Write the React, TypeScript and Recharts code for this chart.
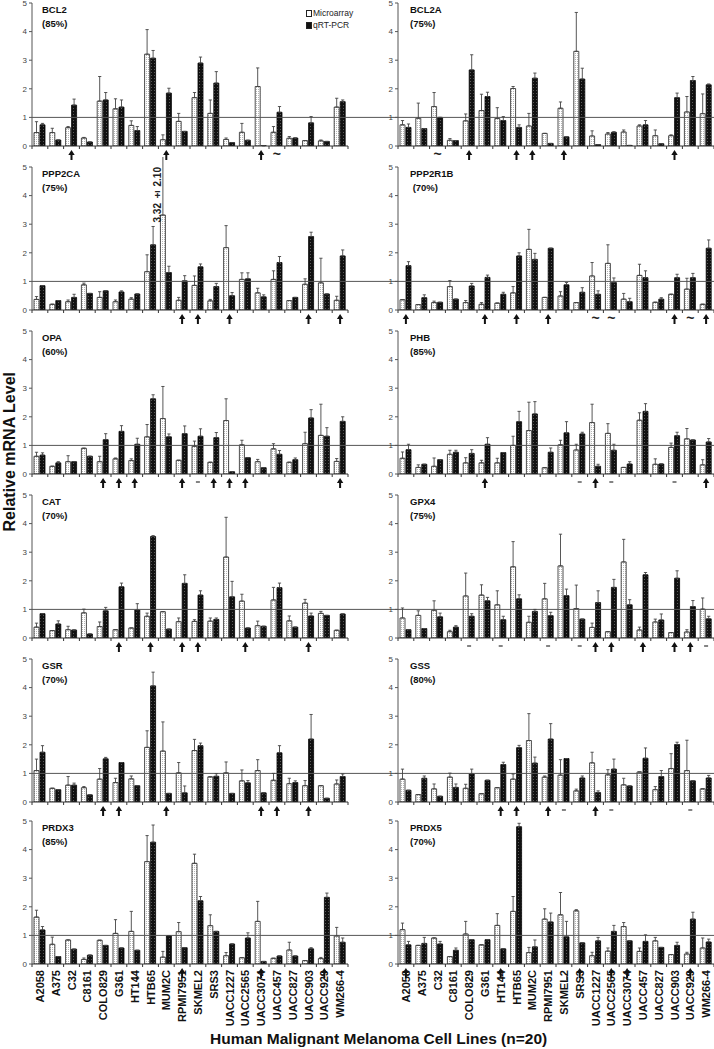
import React from 'react';
import { BarChart, Bar, XAxis, YAxis, ReferenceLine, ErrorBar } from 'recharts';

const CELL_LINES = ['A2058','A375','C32','C8161','COLO829','G361','HT144','HTB65','MUM2C','RPMI7951','SKMEL2','SRS3','UACC1227','UACC2565','UACC3074','UACC457','UACC827','UACC903','UACC929','WM266-4'];
const Y_TICKS = [0, 1, 2, 3, 4, 5];
const SERIES_NAMES = ['Microarray', 'qRT-PCR'];
const X_TITLE = 'Human Malignant Melanoma Cell Lines (n=20)';
const Y_TITLE = 'Relative mRNA Level';

// BCL2 (85%)
const bcl2Micro = [0.47,0.47,0.64,0.28,1.57,1.30,0.72,3.21,0.22,0.86,1.69,1.14,0.23,0.48,2.08,0.48,0.27,0.19,0.18,1.36];
const bcl2MicroErr = [0.38,0.15,0.04,0.02,0.86,0.35,0.16,0.86,0.17,0.28,0.18,0.47,0.05,0.31,0.65,0.20,0.06,0,0.03,0.31];
const bcl2Pcr = [0.74,0.21,1.43,0.14,1.61,1.36,0.54,3.07,1.85,0.51,2.90,2.20,0.12,0.20,0.01,1.18,0.28,0.81,0.16,1.55];
const bcl2PcrErr = [0.05,0,0.21,0,0.26,0.25,0.14,0.27,0.17,0,0.21,0.40,0,0,0,0.20,0,0.22,0,0.06];
const bcl2Arrows = ['C32','MUM2C','UACC3074'];
const bcl2Tildes = ['UACC457'];

// BCL2A (75%)
const bcl2aMicro = [0.74,0.97,1.38,0.20,0.88,1.24,0.96,2.01,0.70,0.44,1.32,3.31,0.35,0.42,0.49,0.70,0.36,0.36,1.19,1.13];
const bcl2aMicroErr = [0.15,0.53,0.49,0.06,0.24,0.57,0.38,0.07,0.44,0,0.22,1.36,0.18,0.05,0.07,0.04,0.20,0.03,0.54,0.69];
const bcl2aPcr = [0.65,0.61,1.00,0.19,2.66,1.73,0.89,0.65,2.37,0.09,0.32,2.34,0.05,0.48,0.02,0.74,0.08,1.69,2.29,2.14];
const bcl2aPcrErr = [0.12,0,0,0,0.53,0.15,0.14,0.09,0.18,0,0,0.38,0,0.02,0,0.15,0,0.16,0.14,0.03];
const bcl2aArrows = ['COLO829','HTB65','MUM2C','SKMEL2','UACC903'];
const bcl2aTildes = ['C32'];

// PPP2CA (75%)
const ppp2caMicro = [0.37,0.20,0.29,0.88,0.44,0.29,0.38,1.34,3.32,0.34,0.86,0.32,2.18,1.07,0.60,1.07,0.33,0.90,0.95,0.34];
const ppp2caMicroErr = [0.10,0,0.06,0.06,0.20,0.06,0.05,0.59,2.10,0.10,0.33,0.05,0.77,0.23,0.16,0.30,0,0.19,0.86,0.14];
const ppp2caPcr = [0.85,0.33,0.44,0.58,0.67,0.63,0.56,2.28,1.31,1.02,1.51,0.82,0.50,1.09,0.46,1.66,0.44,2.57,0.56,1.89];
const ppp2caPcrErr = [0,0,0.11,0,0,0.04,0,0.64,0.22,0.18,0.10,0.11,0.11,0.21,0.07,0.21,0,0.15,0,0.21];
const ppp2caArrows = ['RPMI7951','SKMEL2','UACC1227','UACC903','WM266-4'];

// PPP2R1B (70%)
const ppp2r1bMicro = [0.36,0.19,0.26,0.82,0.26,0.20,0.24,0.60,2.12,0.44,0.49,0.26,1.19,1.63,0.38,1.21,0.27,0.55,0.73,0.20];
const ppp2r1bMicroErr = [0,0,0.05,0.21,0.07,0.06,0,0.22,0.70,0,0.15,0,0.47,0.65,0.20,0.39,0,0,0.38,0];
const ppp2r1bPcr = [1.55,0.43,0.27,0.38,0.84,1.14,0.55,1.89,1.77,2.16,0.88,0.62,0.55,0.96,0.29,1.13,0.38,1.13,1.13,2.16];
const ppp2r1bPcrErr = [0.14,0.10,0,0,0.09,0.08,0.07,0.11,0.21,0,0.08,0.16,0.12,0.16,0.12,0.24,0.05,0.12,0.15,0.29];
const ppp2r1bArrows = ['A2058','G361','HTB65','RPMI7951','UACC903','WM266-4'];
const ppp2r1bTildes = ['UACC1227','UACC2565','UACC929'];

// OPA (60%)
const opaMicro = [0.62,0.27,0.43,0.90,0.43,0.53,0.47,1.30,1.94,0.48,0.97,0.41,1.87,1.02,0.43,0.88,0.41,1.06,1.35,0.44];
const opaMicroErr = [0.14,0,0.21,0,0.19,0.03,0.06,0.43,1.12,0,0.18,0,0.76,0.16,0.08,0.18,0,0.40,1.09,0.10];
const opaPcr = [0.66,0.39,0.43,0.62,1.20,1.49,1.04,2.63,1.30,1.41,1.32,1.27,0.08,0.57,0.22,0.69,0.50,1.96,1.32,1.84];
const opaPcrErr = [0.08,0.04,0,0,0.21,0.20,0.21,0.14,0.10,0.27,0.26,0.18,0,0,0,0.13,0.06,0.29,0.30,0.16];
const opaArrows = ['COLO829','G361','HT144','RPMI7951','SRS3','UACC1227','UACC2565','WM266-4'];
const opaDashes = ['SKMEL2'];

// PHB (85%)
const phbMicro = [0.55,0.23,0.27,0.69,0.39,0.39,0.39,1.00,1.52,0.22,1.02,0.84,1.80,1.42,0.23,1.88,0.34,0.93,1.23,0.32];
const phbMicroErr = [0.22,0.09,0.29,0.14,0.18,0.09,0.16,0.32,0.99,0,0.16,0.20,0.64,0.34,0,0.26,0.19,0.15,0.36,0.18];
const phbPcr = [0.85,0.34,0.50,0.76,0.72,1.04,0.75,1.83,2.10,0.76,1.44,1.40,0.27,0.83,0.35,2.19,0.35,1.34,1.19,1.12];
const phbPcrErr = [0.19,0,0,0.07,0.13,0.23,0,0.36,0.43,0.15,0.39,0.06,0.07,0.21,0.08,0.27,0,0.12,0,0.12];
const phbArrows = ['G361','UACC1227','WM266-4'];
const phbDashes = ['SRS3','UACC2565','UACC903'];

// CAT (70%)
const catMicro = [0.38,0.26,0.29,0.88,0.40,0.29,0.35,0.76,0.92,0.57,0.58,0.59,2.83,1.29,0.43,1.33,0.60,1.22,0.86,0.27];
const catMicroErr = [0.14,0,0.12,0.13,0.16,0,0,0.11,0,0.13,0.06,0.11,1.39,0.24,0.16,0.44,0.17,0.13,0.07,0];
const catPcr = [0.85,0.49,0.28,0.14,0.95,1.79,0.98,3.55,0.31,1.91,1.50,0.65,1.44,0.35,0.41,1.76,0.38,0.77,0.79,0.84];
const catPcrErr = [0,0.11,0,0,0.12,0.13,0.22,0.03,0,0.30,0.15,0.05,0.54,0,0,0.16,0,0.10,0,0];
const catArrows = ['G361','HTB65','RPMI7951','SKMEL2','UACC2565','UACC903'];

// GPX4 (75%)
const gpx4Micro = [0.70,0.79,0.97,0.22,1.47,1.50,1.16,2.49,0.55,1.37,2.52,1.03,0.37,0.22,2.66,0.28,0.56,0.19,0.21,1.01];
const gpx4MicroErr = [0.35,0.16,0.33,0.05,0.80,0.36,0.49,0.88,0.21,0.54,1.11,0.82,0.15,0,0.79,0.10,0.10,0,0.08,0.39];
const gpx4Pcr = [0.29,0.33,0.74,0.38,0.76,1.30,0.64,1.37,0.93,0.78,1.48,0.66,1.24,1.77,1.16,2.21,0.63,2.09,1.10,0.67];
const gpx4PcrErr = [0,0,0.13,0.05,0.09,0.12,0.12,0.14,0.07,0.12,0.23,0,0.41,0.28,0.18,0.08,0.21,0.26,0.21,0.09];
const gpx4Arrows = ['UACC1227','UACC2565','UACC457','UACC903','UACC929'];
const gpx4Dashes = ['COLO829','HT144','RPMI7951','SRS3','WM266-4'];

// GSR (70%)
const gsrMicro = [1.10,0.48,0.59,0.50,0.80,0.68,0.81,1.91,1.78,1.02,1.80,0.88,1.02,0.74,1.10,0.76,0.64,0.57,0.57,0.63];
const gsrMicroErr = [0.40,0,0.30,0.04,0.37,0.15,0.10,0.58,1.02,0.36,0.39,0,0.38,0.38,0.38,0.24,0.19,0.18,0,0.14];
const gsrPcr = [1.74,0.43,0.59,0.25,1.51,1.38,0.57,4.06,0.30,0.32,1.97,0.90,0.30,0.67,0.32,1.72,0.68,2.20,0.13,0.89];
const gsrPcrErr = [0.23,0,0.07,0,0.05,0,0,0.48,0,0.24,0.09,0.09,0,0.08,0,0.25,0.06,0.86,0,0.09];
const gsrArrows = ['COLO829','G361','MUM2C','UACC3074','UACC457','UACC903'];

// GSS (80%)
const gssMicro = [0.80,0.26,0.46,0.87,0.48,0.29,0.50,0.80,2.15,0.87,0.94,0.39,1.37,0.95,0.60,1.05,0.43,1.17,1.10,0.46];
const gssMicroErr = [0.35,0,0.17,0.14,0.14,0,0,0.18,0.94,0.04,0.54,0.06,0.37,0.18,0.23,0,0.11,0.52,1.06,0];
const gssPcr = [0.41,0.83,0.20,0.51,0.98,0.76,1.31,1.90,1.36,2.20,1.52,0.84,0.33,1.15,0.56,1.53,0.89,2.01,0.74,0.84];
const gssPcrErr = [0,0.08,0,0.12,0.17,0,0.08,0.08,0.21,0.54,0,0.07,0.06,0.35,0,0.36,0.21,0.08,0,0.09];
const gssArrows = ['HT144','HTB65','RPMI7951','UACC1227'];
const gssDashes = ['SKMEL2','UACC2565','UACC929'];

// PRDX3 (85%)
const prdx3Micro = [1.64,0.69,0.84,0.16,0.83,1.07,1.14,3.58,0.24,1.13,3.52,1.34,0.29,0.22,1.49,0.20,0.49,0.12,0.19,0.98];
const prdx3MicroErr = [0.24,0.25,0,0.05,0,0.48,0.70,0.91,0.20,0.32,0.32,0.38,0.11,0,0.70,0,0.27,0,0.04,0.30];
const prdx3Pcr = [1.19,0.26,0.52,0.31,0.65,0.56,0.48,4.26,0.99,0.57,2.21,1.14,0.70,0.91,0.09,0.28,0.28,0.53,2.33,0.76];
const prdx3PcrErr = [0.12,0,0,0,0,0,0,0.60,0,0,0.15,0,0,0.18,0,0,0,0.04,0.15,0.15];
const prdx3Arrows = ['RPMI7951','UACC3074','UACC929'];
const prdx3Dashes = ['G361','HT144'];

// PRDX5 (70%)
const prdx5Micro = [1.20,0.65,0.91,0.26,1.05,0.67,1.35,1.84,0.40,1.57,1.72,1.86,0.29,0.45,1.31,0.44,0.81,0.33,0.35,0.56];
const prdx5MicroErr = [0.23,0,0,0,0.44,0,0.41,0.52,0.18,0.36,0.78,0.04,0.12,0.11,0.14,0.12,0.12,0,0.06,0.35];
const prdx5Pcr = [0.67,0.72,0.70,0.48,0.85,0.85,0.53,4.80,0.60,1.47,0.95,0.74,0.81,1.14,0.81,0.79,0.58,0.65,1.57,0.77];
const prdx5PcrErr = [0.12,0.21,0.09,0.08,0,0,0,0.12,0.24,0.31,0.54,0,0.12,0.21,0,0.23,0,0.11,0.24,0.10];
const prdx5Arrows = ['A2058','HT144','SRS3','UACC2565','UACC3074','UACC929'];
const prdx5Dashes = ['COLO829','SKMEL2'];

type Gene = {
  name: string; pct: string;
  micro: number[]; microErr: number[]; pcr: number[]; pcrErr: number[];
  arrows?: string[]; tildes?: string[]; dashes?: string[];
};

const GENES: Gene[] = [
  { name: 'BCL2', pct: '(85%)', micro: bcl2Micro, microErr: bcl2MicroErr, pcr: bcl2Pcr, pcrErr: bcl2PcrErr, arrows: bcl2Arrows, tildes: bcl2Tildes },
  { name: 'BCL2A', pct: '(75%)', micro: bcl2aMicro, microErr: bcl2aMicroErr, pcr: bcl2aPcr, pcrErr: bcl2aPcrErr, arrows: bcl2aArrows, tildes: bcl2aTildes },
  { name: 'PPP2CA', pct: '(75%)', micro: ppp2caMicro, microErr: ppp2caMicroErr, pcr: ppp2caPcr, pcrErr: ppp2caPcrErr, arrows: ppp2caArrows },
  { name: 'PPP2R1B', pct: ' (70%)', micro: ppp2r1bMicro, microErr: ppp2r1bMicroErr, pcr: ppp2r1bPcr, pcrErr: ppp2r1bPcrErr, arrows: ppp2r1bArrows, tildes: ppp2r1bTildes },
  { name: 'OPA', pct: '(60%)', micro: opaMicro, microErr: opaMicroErr, pcr: opaPcr, pcrErr: opaPcrErr, arrows: opaArrows, dashes: opaDashes },
  { name: 'PHB', pct: '(85%)', micro: phbMicro, microErr: phbMicroErr, pcr: phbPcr, pcrErr: phbPcrErr, arrows: phbArrows, dashes: phbDashes },
  { name: 'CAT', pct: '(70%)', micro: catMicro, microErr: catMicroErr, pcr: catPcr, pcrErr: catPcrErr, arrows: catArrows },
  { name: 'GPX4', pct: '(75%)', micro: gpx4Micro, microErr: gpx4MicroErr, pcr: gpx4Pcr, pcrErr: gpx4PcrErr, arrows: gpx4Arrows, dashes: gpx4Dashes },
  { name: 'GSR', pct: '(70%)', micro: gsrMicro, microErr: gsrMicroErr, pcr: gsrPcr, pcrErr: gsrPcrErr, arrows: gsrArrows },
  { name: 'GSS', pct: '(80%)', micro: gssMicro, microErr: gssMicroErr, pcr: gssPcr, pcrErr: gssPcrErr, arrows: gssArrows, dashes: gssDashes },
  { name: 'PRDX3', pct: '(85%)', micro: prdx3Micro, microErr: prdx3MicroErr, pcr: prdx3Pcr, pcrErr: prdx3PcrErr, arrows: prdx3Arrows, dashes: prdx3Dashes },
  { name: 'PRDX5', pct: '(70%)', micro: prdx5Micro, microErr: prdx5MicroErr, pcr: prdx5Pcr, pcrErr: prdx5PcrErr, arrows: prdx5Arrows, dashes: prdx5Dashes },
];

const FONT = '"Liberation Sans", Arial, Helvetica, sans-serif';
const ZERO_Y = [146, 310, 474, 638, 802, 964];
const PLOT_H = 143;
const M_TOP = 10;
const BAND = 15.8;

function CellTick(props: any) {
  const { x, y, payload, gene, bottom } = props;
  const name = payload.value as string;
  const idx = CELL_LINES.indexOf(name);
  const half = BAND / 2;
  const isArrow = gene.arrows?.includes(name);
  const isTilde = gene.tildes?.includes(name);
  const isDash = gene.dashes?.includes(name);
  return (
    <g>
      <line x1={x - half} x2={x + half} y1={y} y2={y} stroke="#333" strokeWidth={1} />
      <line x1={x - half} x2={x - half} y1={y} y2={y + 3} stroke="#333" strokeWidth={1} />
      {idx === CELL_LINES.length - 1 && (
        <line x1={x + half} x2={x + half} y1={y} y2={y + 3} stroke="#333" strokeWidth={1} />
      )}
      {isArrow && (
        <path
          d={`M ${x} ${y + 4} L ${x + 3.2} ${y + 9} L ${x + 1} ${y + 9} L ${x + 1} ${y + 14} L ${x - 1} ${y + 14} L ${x - 1} ${y + 9} L ${x - 3.2} ${y + 9} Z`}
          fill="#111"
        />
      )}
      {isTilde && (
        <text x={x} y={y + 13} textAnchor="middle" fontSize={14} fontWeight="bold" fill="#222" fontFamily={FONT}>~</text>
      )}
      {isDash && !bottom && (
        <line x1={x - 2} x2={x + 2} y1={y + 8} y2={y + 8} stroke="#333" strokeWidth={1.2} />
      )}
      {isDash && bottom && (
        <line x1={x + 3} x2={x + 3} y1={y + 12} y2={y + 16} stroke="#333" strokeWidth={1.2} />
      )}
      {bottom && (
        <text
          x={x}
          y={y + 6}
          transform={`rotate(-90, ${x}, ${y + 6})`}
          textAnchor="end"
          dominantBaseline="central"
          fontSize={11}
          fontWeight="bold"
          fill="#111"
          fontFamily={FONT}
        >
          {name}
        </text>
      )}
    </g>
  );
}

function Panel({ gene, index }: { gene: Gene; index: number }) {
  const row = Math.floor(index / 2);
  const col = index % 2;
  const bottom = row === 5;
  const xH = bottom ? 75 : 20;
  const left = col === 0 ? 0 : 355;
  const width = col === 0 ? 398 : 359;
  const mLeft = col === 0 ? 8 : 19;
  const yW = 24;
  const padRight = col === 0 ? 50 : 0;
  const top = ZERO_Y[row] - PLOT_H - M_TOP;
  const height = M_TOP + PLOT_H + xH;
  const data = CELL_LINES.map((c, i) => ({
    cell: c,
    micro: gene.micro[i],
    microErr: [0, gene.microErr[i]],
    pcr: gene.pcr[i],
    pcrErr: [0, gene.pcrErr[i]],
  }));
  const pid = `p${index}`;
  const axisX = left + mLeft + yW;
  return (
    <>
      <div style={{ position: 'absolute', left, top, width, height }}>
        <BarChart
          width={width}
          height={height}
          data={data}
          margin={{ top: M_TOP, right: 0, bottom: 0, left: mLeft }}
          barSize={5}
          barGap={1}
        >
          <defs>
            <pattern id={`${pid}-micro`} width="2" height="2" patternUnits="userSpaceOnUse">
              <rect width="2" height="2" fill="#ffffff" />
              <rect width="1" height="1" fill="#b5b5b5" />
            </pattern>
            <pattern id={`${pid}-pcr`} width="3" height="3" patternUnits="userSpaceOnUse">
              <rect width="3" height="3" fill="#111111" />
              <rect x="1" y="1" width="1" height="1" fill="#5a5a5a" />
            </pattern>
          </defs>
          <XAxis
            dataKey="cell"
            interval={0}
            tickSize={0}
            tickMargin={0}
            axisLine={false}
            tickLine={false}
            height={xH}
            padding={{ left: 0, right: padRight }}
            tick={(p: any) => <CellTick {...p} gene={gene} bottom={bottom} />}
          />
          <YAxis
            domain={[0, 5]}
            ticks={Y_TICKS}
            allowDataOverflow
            interval={0}
            width={yW}
            tickSize={3}
            tickMargin={2}
            tick={{ fontSize: 8, fill: '#444', fontFamily: FONT }}
            axisLine={{ stroke: '#555' }}
            tickLine={{ stroke: '#555' }}
          />
          <ReferenceLine y={1} stroke="#555" strokeWidth={1} />
          <Bar dataKey="micro" name={SERIES_NAMES[0]} fill={`url(#${pid}-micro)`} stroke="#222" strokeWidth={0.8} isAnimationActive={false}>
            <ErrorBar dataKey="microErr" direction="y" width={1.6} stroke="#444" strokeWidth={0.9} />
          </Bar>
          <Bar dataKey="pcr" name={SERIES_NAMES[1]} fill={`url(#${pid}-pcr)`} stroke="#000" strokeWidth={0.8} isAnimationActive={false}>
            <ErrorBar dataKey="pcrErr" direction="y" width={1.6} stroke="#444" strokeWidth={0.9} />
          </Bar>
        </BarChart>
      </div>
      <div
        style={{
          position: 'absolute',
          left: axisX + (col === 0 ? 10 : 12),
          top: ZERO_Y[row] - PLOT_H,
          fontSize: 9.5,
          fontWeight: 'bold',
          lineHeight: '13.5px',
          color: '#111',
          whiteSpace: 'pre',
          fontFamily: FONT,
        }}
      >
        {gene.name}
        <br />
        {gene.pct}
      </div>
    </>
  );
}

function LegendBox() {
  const item = (label: string, fill: string) => (
    <div style={{ display: 'flex', alignItems: 'center', height: 12 }}>
      <span style={{ display: 'inline-block', width: 4, height: 5, border: '0.8px solid #222', background: fill, marginRight: 1 }} />
      <span>{label}</span>
    </div>
  );
  return (
    <div style={{ position: 'absolute', left: 306, top: 7, fontSize: 8.5, color: '#222', fontFamily: FONT, lineHeight: '12px' }}>
      {item(SERIES_NAMES[0], '#fff')}
      {item(SERIES_NAMES[1], '#111')}
    </div>
  );
}

export default function App() {
  return (
    <div style={{ position: 'absolute', left: 0, top: 0, width: 714, height: 1049, background: '#fff', overflow: 'hidden', fontFamily: FONT }}>
      {GENES.map((g, i) => (
        <Panel key={g.name} gene={g} index={i} />
      ))}
      <LegendBox />
      <div
        style={{
          position: 'absolute',
          left: 152,
          top: 167,
          writingMode: 'vertical-rl',
          transform: 'rotate(180deg)',
          fontSize: 10,
          fontWeight: 'bold',
          color: '#222',
          lineHeight: '11px',
          whiteSpace: 'nowrap',
        }}
      >
        3.32 ± 2.10
      </div>
      <div
        style={{
          position: 'absolute',
          left: 1,
          top: 372,
          writingMode: 'vertical-rl',
          transform: 'rotate(180deg)',
          fontSize: 16,
          fontWeight: 'bold',
          color: '#111',
          lineHeight: '17px',
          whiteSpace: 'nowrap',
        }}
      >
        {Y_TITLE}
      </div>
      <div
        style={{
          position: 'absolute',
          left: 210,
          top: 1030,
          fontSize: 15.5,
          fontWeight: 'bold',
          color: '#111',
          whiteSpace: 'nowrap',
        }}
      >
        {X_TITLE}
      </div>
    </div>
  );
}
